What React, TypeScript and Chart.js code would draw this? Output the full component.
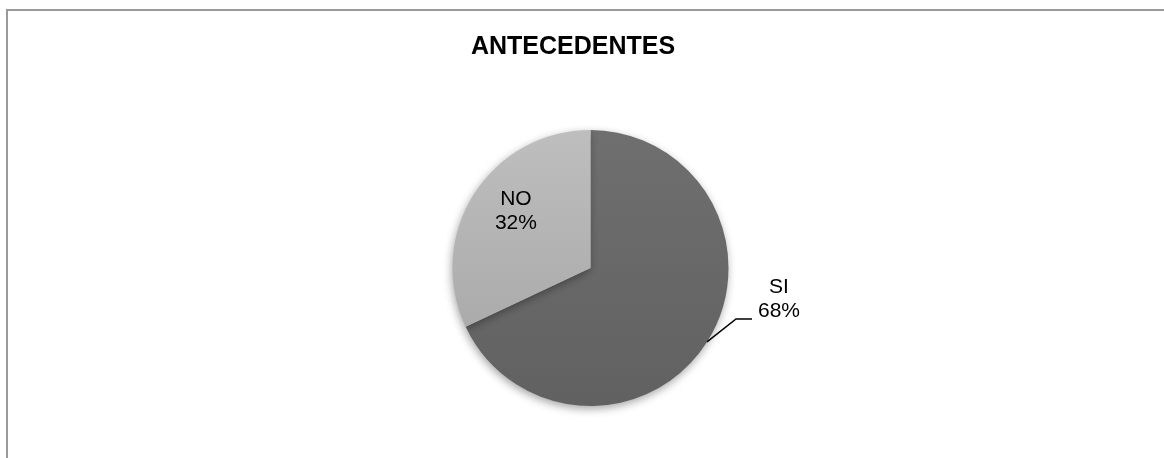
import React, { useEffect, useRef } from "react";
import { Chart, registerables } from "chart.js";

Chart.register(...registerables);

const title = "ANTECEDENTES";
const categories = ["SI", "NO"];
const values = [68, 32];
const percentLabels = ["68%", "32%"];

const FONT = "'Liberation Sans', Arial, sans-serif";

const decorPlugin = {
  id: "decor",
  beforeDraw(chart: any) {
    const ctx = chart.ctx;
    ctx.save();
    ctx.fillStyle = "#ffffff";
    ctx.fillRect(0, 0, chart.width, chart.height);
    // frame (top + left)
    ctx.strokeStyle = "#9a9a9a";
    ctx.lineWidth = 2;
    ctx.beginPath();
    ctx.moveTo(7, chart.height);
    ctx.lineTo(7, 10);
    ctx.lineTo(chart.width, 10);
    ctx.stroke();
    // title
    ctx.fillStyle = "#000000";
    ctx.font = `bold 25px ${FONT}`;
    ctx.textAlign = "center";
    ctx.textBaseline = "middle";
    ctx.fillText(title, 573, 47);
    ctx.restore();
  },
  beforeDatasetsDraw(chart: any) {
    const ctx = chart.ctx;
    ctx.save();
    ctx.shadowColor = "rgba(0,0,0,0.35)";
    ctx.shadowBlur = 8;
    ctx.shadowOffsetX = -1;
    ctx.shadowOffsetY = 3;
  },
  afterDatasetsDraw(chart: any) {
    const ctx = chart.ctx;
    ctx.restore();
    const meta = chart.getDatasetMeta(0);
    ctx.save();
    ctx.fillStyle = "#000000";
    ctx.font = `21px ${FONT}`;
    ctx.textAlign = "center";
    ctx.textBaseline = "middle";
    meta.data.forEach((arc: any, i: number) => {
      const { x, y, outerRadius, startAngle, endAngle } = arc.getProps(
        ["x", "y", "outerRadius", "startAngle", "endAngle"],
        true
      );
      const mid = (startAngle + endAngle) / 2;
      const c = Math.cos(mid);
      const s = Math.sin(mid);
      if (i === 0) {
        // outside label with leader line
        const ex = x + c * outerRadius;
        const ey = y + s * outerRadius;
        const bx = ex + 29;
        const by = ey - 23;
        const lx = bx + 16;
        ctx.strokeStyle = "#000000";
        ctx.lineWidth = 1.5;
        ctx.beginPath();
        ctx.moveTo(ex, ey);
        ctx.lineTo(bx, by);
        ctx.lineTo(lx, by);
        ctx.stroke();
        const tx = lx + 6 + 21;
        ctx.fillText(categories[i], tx, by - 32);
        ctx.fillText(percentLabels[i], tx, by - 8);
      } else {
        const tx = x + c * outerRadius * 0.64;
        const ty = y + s * outerRadius * 0.77;
        ctx.fillText(categories[i], tx, ty - 12);
        ctx.fillText(percentLabels[i], tx, ty + 12);
      }
    });
    ctx.restore();
  },
};

export default function App() {
  const ref = useRef<HTMLCanvasElement>(null);
  useEffect(() => {
    document.body.style.margin = "0";
    const canvas = ref.current!;
    const ctx = canvas.getContext("2d")!;
    const gLight = ctx.createLinearGradient(0, 130, 0, 406);
    gLight.addColorStop(0, "#bebebe");
    gLight.addColorStop(1, "#a4a4a4");
    const gDark = ctx.createLinearGradient(0, 130, 0, 406);
    gDark.addColorStop(0, "#6f6f6f");
    gDark.addColorStop(1, "#616161");
    const chart = new Chart(canvas, {
      type: "pie",
      data: {
        labels: categories,
        datasets: [
          {
            data: values,
            backgroundColor: [gDark, gLight],
            borderWidth: 0,
          },
        ],
      },
      options: {
        responsive: false,
        animation: false,
        layout: { padding: { left: 300, right: 283, top: 130, bottom: 52 } },
        plugins: {
          legend: { display: false },
          title: { display: false },
          tooltip: { enabled: false },
        },
      },
      plugins: [decorPlugin],
    });
    return () => chart.destroy();
  }, []);
  return (
    <div style={{ width: 1164, height: 458 }}>
      <canvas ref={ref} width={1164} height={458} style={{ display: "block" }} />
    </div>
  );
}
